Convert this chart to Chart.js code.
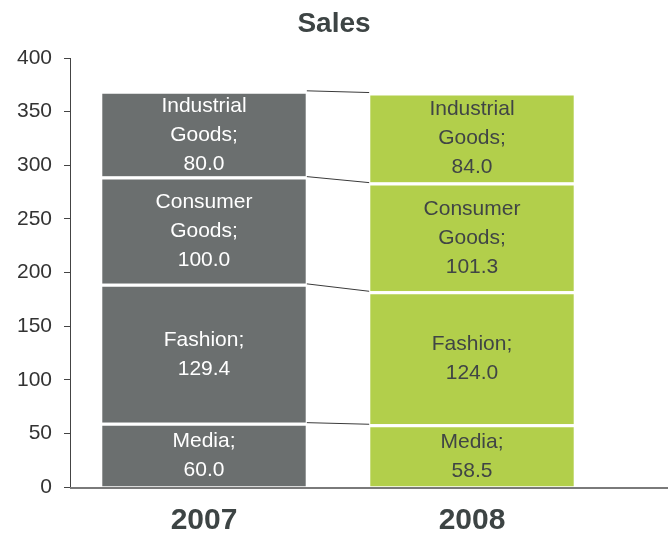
<!DOCTYPE html>
<html>
<head>
<meta charset="utf-8">
<script src="https://cdn.jsdelivr.net/npm/chart.js@4/dist/chart.umd.min.js"></script>
<style>
  html, body { margin: 0; padding: 0; background: #fff; }
  #wrap { width: 668px; height: 533px; }
</style>
</head>
<body>
<div id="wrap"><canvas id="chart"></canvas></div>
<script>
const title = "Sales"
const years = ["2007", "2008"]
const segments = ["Media", "Fashion", "Consumer Goods", "Industrial Goods"]
const media = [60.0, 58.5]
const fashion = [129.4, 124.0]
const consumerGoods = [100.0, 101.3]
const industrialGoods = [80.0, 84.0]
const yTicks = [0, 50, 100, 150, 200, 250, 300, 350, 400]

const barColors = ["#6b6f6f", "#b2cf4b"]
const labelColors = ["#ffffff", "#404545"]
const font = "'Liberation Sans', Arial, sans-serif"

// label text inside each segment, split like the original
const labelLines = {
  "Media": ["Media;"],
  "Fashion": ["Fashion;"],
  "Consumer Goods": ["Consumer", "Goods;"],
  "Industrial Goods": ["Industrial", "Goods;"],
}

const seriesValues = [media, fashion, consumerGoods, industrialGoods]

const segmentLabels = {
  id: "segmentLabels",
  afterDatasetsDraw(chart) {
    const ctx = chart.ctx
    ctx.save()
    ctx.font = "21px " + font
    ctx.textAlign = "center"
    ctx.textBaseline = "middle"
    chart.data.datasets.forEach((ds, i) => {
      const meta = chart.getDatasetMeta(i)
      meta.data.forEach((bar, j) => {
        const lines = labelLines[ds.label].concat([ds.data[j].toFixed(1)])
        const cy = (bar.y + bar.base) / 2 + 1
        const lh = 29
        ctx.fillStyle = labelColors[j]
        lines.forEach((t, k) => {
          ctx.fillText(t, bar.x, cy + (k - (lines.length - 1) / 2) * lh)
        })
      })
    })
    ctx.restore()
  },
}

// connector lines between segment tops, the long x axis line and the title
const extras = {
  id: "extras",
  afterDatasetsDraw(chart) {
    const ctx = chart.ctx
    const area = chart.chartArea
    ctx.save()
    ctx.strokeStyle = "#3a3a3a"
    ctx.lineWidth = 1
    chart.data.datasets.forEach((ds, i) => {
      const bars = chart.getDatasetMeta(i).data
      const a = bars[0], b = bars[1]
      ctx.beginPath()
      ctx.moveTo(a.x + a.width / 2 + 1, a.y)
      ctx.lineTo(b.x - b.width / 2 - 1, b.y)
      ctx.stroke()
    })
    ctx.strokeStyle = "#7a7a7a"
    ctx.lineWidth = 2
    ctx.beginPath()
    ctx.moveTo(area.left, area.bottom + 1)
    ctx.lineTo(chart.width, area.bottom + 1)
    ctx.stroke()

    ctx.fillStyle = "#3d4444"
    ctx.font = "bold 28px " + font
    ctx.textAlign = "center"
    ctx.textBaseline = "alphabetic"
    ctx.fillText(title, chart.width / 2, 32)
    ctx.restore()
  },
}

const datasets = segments.map((name, i) => ({
  label: name,
  data: seriesValues[i],
  backgroundColor: barColors,
  borderColor: "#ffffff",
  borderWidth: { top: 3, bottom: 0, left: 0, right: 0 },
  borderSkipped: false,
  barPercentage: 0.76,
  categoryPercentage: 1.0,
}))

new Chart(document.getElementById("chart"), {
  type: "bar",
  data: { labels: years, datasets: datasets },
  plugins: [segmentLabels, extras],
  options: {
    responsive: true,
    maintainAspectRatio: false,
    animation: false,
    layout: { padding: { left: 0, right: 62, top: 58, bottom: 0 } },
    plugins: {
      legend: { display: false },
      tooltip: { enabled: false },
      title: { display: false },
    },
    scales: {
      x: {
        stacked: true,
        grid: { display: false },
        border: { display: false },
        ticks: {
          color: "#3d4444",
          font: { family: font, size: 30, weight: "bold" },
          padding: 8,
        },
        afterFit(scale) { scale.height = 46 },
      },
      y: {
        stacked: true,
        min: 0,
        max: 400,
        afterBuildTicks(scale) {
          scale.ticks = yTicks.map(v => ({ value: v }))
        },
        grid: {
          drawOnChartArea: false,
          drawTicks: true,
          tickLength: 6,
          color: "#444",
        },
        border: { display: true, color: "#444", width: 1 },
        ticks: {
          color: "#333",
          font: { family: font, size: 21 },
          padding: 12,
        },
        afterFit(scale) { scale.width = 70 },
      },
    },
  },
})
</script>
</body>
</html>
